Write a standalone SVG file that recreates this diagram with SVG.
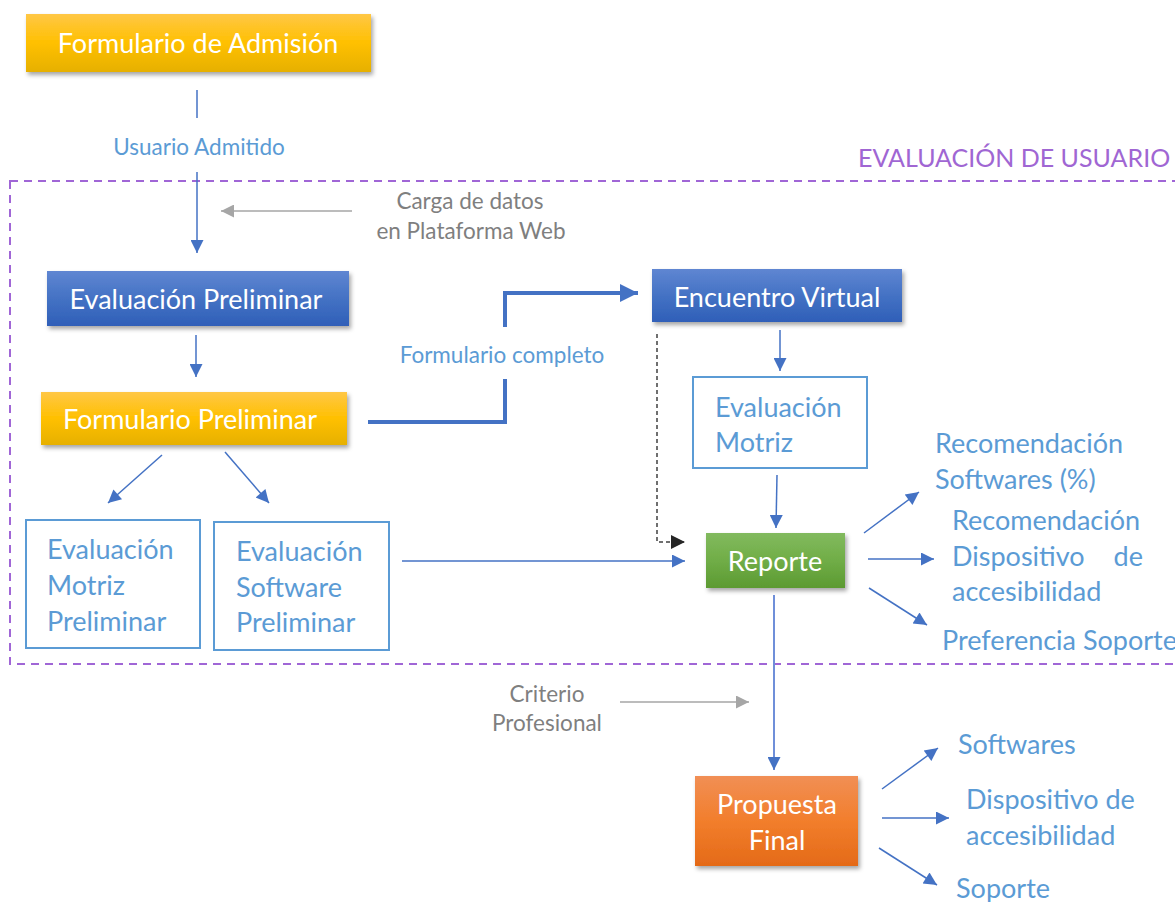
<svg xmlns="http://www.w3.org/2000/svg" width="1175" height="902" viewBox="0 0 1175 902">
<style>
.t{font-family:Lato,"Liberation Sans",sans-serif}
.w{fill:#ffffff;font-size:27px}
.b{fill:#5b9bd5;font-size:27px}
.s{fill:#5b9bd5;font-size:22.5px}
.g{fill:#7f7f7f;font-size:22.5px}
.ob{fill:#ffffff;stroke:#5b9bd5;stroke-width:2}
.c{stroke:#4472c4;stroke-width:1.5;fill:none}
.cg{stroke:#a6a6a6;stroke-width:1.5;fill:none}
</style>
<defs>
<linearGradient id="gy" x1="0" y1="0" x2="0" y2="1"><stop offset="0" stop-color="#ffc746"/><stop offset="0.5" stop-color="#ffc000"/><stop offset="1" stop-color="#e6b000"/></linearGradient>
<linearGradient id="gb" x1="0" y1="0" x2="0" y2="1"><stop offset="0" stop-color="#5f86d2"/><stop offset="0.5" stop-color="#4472c4"/><stop offset="1" stop-color="#2f5fb8"/></linearGradient>
<linearGradient id="gg" x1="0" y1="0" x2="0" y2="1"><stop offset="0" stop-color="#82ba5e"/><stop offset="0.5" stop-color="#70ad47"/><stop offset="1" stop-color="#5c9a32"/></linearGradient>
<linearGradient id="go" x1="0" y1="0" x2="0" y2="1"><stop offset="0" stop-color="#f18f55"/><stop offset="0.5" stop-color="#f27e2c"/><stop offset="1" stop-color="#e46a18"/></linearGradient>
<filter id="sh" x="-10%" y="-20%" width="130%" height="160%"><feDropShadow dx="2" dy="3" stdDeviation="2" flood-color="#000" flood-opacity="0.35"/></filter>
<marker id="ab" viewBox="0 0 10 10" refX="10" refY="5" markerWidth="15" markerHeight="13" markerUnits="userSpaceOnUse" orient="auto"><path d="M0,0 L10,5 L0,10 Z" fill="#4472c4"/></marker>
<marker id="abt" viewBox="0 0 10 10" refX="10" refY="5" markerWidth="5" markerHeight="4.5" markerUnits="strokeWidth" orient="auto"><path d="M0,0 L10,5 L0,10 Z" fill="#4472c4"/></marker>
<marker id="ag" viewBox="0 0 10 10" refX="10" refY="5" markerWidth="15" markerHeight="13" markerUnits="userSpaceOnUse" orient="auto"><path d="M0,0 L10,5 L0,10 Z" fill="#a6a6a6"/></marker>
<marker id="ak" viewBox="0 0 10 10" refX="10" refY="5" markerWidth="16" markerHeight="14" markerUnits="userSpaceOnUse" orient="auto"><path d="M0,0 L10,5 L0,10 Z" fill="#262626"/></marker>
</defs>
<rect width="1175" height="902" fill="#ffffff"/>

<g id="evaluacion-usuario">
<rect x="10" y="181" width="1180" height="483" fill="none" stroke="#a066d6" stroke-width="2" stroke-dasharray="8 6"/>
<text class="t" x="858" y="167" style="fill:#a066d3;font-size:25px">EVALUACIÓN DE USUARIO</text>
</g>

<g id="connectors">
<line class="c" x1="197" y1="90" x2="197" y2="118"/>
<text class="t s" x="199" y="155" text-anchor="middle">Usuario Admitido</text>
<line class="c" x1="197" y1="172" x2="197" y2="253" marker-end="url(#ab)"/>
<line class="cg" x1="352" y1="211" x2="221" y2="211" marker-end="url(#ag)"/>
<text class="t g" x="470" y="209" text-anchor="middle">Carga de datos</text>
<text class="t g" x="471" y="239" text-anchor="middle">en Plataforma Web</text>
<line class="c" x1="196" y1="335" x2="196" y2="377" marker-end="url(#ab)"/>
<path d="M368,422 H505 V379" stroke="#4472c4" stroke-width="4" fill="none"/>
<path d="M505,327 V293 H638" stroke="#4472c4" stroke-width="4" fill="none" marker-end="url(#abt)"/>
<text class="t s" x="502" y="363" text-anchor="middle">Formulario completo</text>
<line class="c" x1="780" y1="330" x2="780" y2="371" marker-end="url(#ab)"/>
<line class="c" x1="777" y1="475" x2="776" y2="528" marker-end="url(#ab)"/>
<path d="M657,334 V542 H685" stroke="#404040" stroke-width="1.5" stroke-dasharray="4 3" fill="none" marker-end="url(#ak)"/>
<line class="c" x1="402" y1="561" x2="685" y2="561" marker-end="url(#ab)"/>
<line class="c" x1="162" y1="455" x2="108" y2="503" marker-end="url(#ab)"/>
<line class="c" x1="225" y1="452" x2="269" y2="503" marker-end="url(#ab)"/>
<line class="c" x1="864" y1="533" x2="919" y2="492" marker-end="url(#ab)"/>
<line class="c" x1="868" y1="559" x2="934" y2="559" marker-end="url(#ab)"/>
<line class="c" x1="869" y1="588" x2="927" y2="625" marker-end="url(#ab)"/>
<line x1="774" y1="595" x2="774" y2="770" stroke="#6f8fd9" stroke-width="2" marker-end="url(#ab)"/>
<text class="t g" x="547" y="702" text-anchor="middle">Criterio</text>
<text class="t g" x="547" y="731" text-anchor="middle">Profesional</text>
<line class="cg" x1="620" y1="702" x2="749" y2="702" marker-end="url(#ag)"/>
<line class="c" x1="882" y1="789" x2="938" y2="748" marker-end="url(#ab)"/>
<line class="c" x1="882" y1="818" x2="949" y2="818" marker-end="url(#ab)"/>
<line class="c" x1="879" y1="848" x2="937" y2="885" marker-end="url(#ab)"/>
</g>

<g id="formulario-admision">
<rect x="26" y="14" width="345" height="58" fill="url(#gy)" filter="url(#sh)"/>
<text class="t w" x="198" y="53" text-anchor="middle">Formulario de Admisión</text>
</g>

<g id="evaluacion-preliminar">
<rect x="47" y="271" width="302" height="55" fill="url(#gb)" filter="url(#sh)"/>
<text class="t w" x="196" y="309" text-anchor="middle">Evaluación Preliminar</text>
</g>

<g id="formulario-preliminar">
<rect x="41" y="392" width="306" height="53" fill="url(#gy)" filter="url(#sh)"/>
<text class="t w" x="190" y="429" text-anchor="middle">Formulario Preliminar</text>
</g>

<g id="encuentro-virtual">
<rect x="652" y="269" width="250" height="53" fill="url(#gb)" filter="url(#sh)"/>
<text class="t w" x="777" y="307" text-anchor="middle">Encuentro Virtual</text>
</g>

<g id="evaluacion-motriz">
<rect class="ob" x="693" y="377" width="174" height="91"/>
<text class="t b" x="715" y="417">Evaluación</text>
<text class="t b" x="715" y="452">Motriz</text>
</g>

<g id="reporte">
<rect x="706" y="533" width="139" height="55" fill="url(#gg)" filter="url(#sh)"/>
<text class="t w" x="775" y="571" text-anchor="middle">Reporte</text>
</g>

<g id="evaluacion-motriz-preliminar">
<rect class="ob" x="26" y="520" width="174" height="128"/>
<text class="t b" x="47" y="559">Evaluación</text>
<text class="t b" x="47" y="595">Motriz</text>
<text class="t b" x="47" y="631">Preliminar</text>
</g>

<g id="evaluacion-software-preliminar">
<rect class="ob" x="214" y="522" width="175" height="128"/>
<text class="t b" x="236" y="561">Evaluación</text>
<text class="t b" x="236" y="597">Software</text>
<text class="t b" x="236" y="632">Preliminar</text>
</g>

<g id="reporte-salidas">
<text class="t b" x="935" y="453">Recomendación</text>
<text class="t b" x="935" y="489">Softwares (%)</text>
<text class="t b" x="952" y="530">Recomendación</text>
<text class="t b" x="952" y="566">Dispositivo</text>
<text class="t b" x="1143" y="566" text-anchor="end">de</text>
<text class="t b" x="952" y="601">accesibilidad</text>
<text class="t b" x="942" y="650">Preferencia Soporte</text>
</g>

<g id="propuesta-final">
<rect x="695" y="776" width="163" height="90" fill="url(#go)" filter="url(#sh)"/>
<text class="t w" x="777" y="814" text-anchor="middle">Propuesta</text>
<text class="t w" x="777" y="850" text-anchor="middle">Final</text>
</g>

<g id="propuesta-salidas">
<text class="t b" x="958" y="754">Softwares</text>
<text class="t b" x="966" y="809">Dispositivo de</text>
<text class="t b" x="966" y="845">accesibilidad</text>
<text class="t b" x="956" y="898">Soporte</text>
</g>
</svg>
